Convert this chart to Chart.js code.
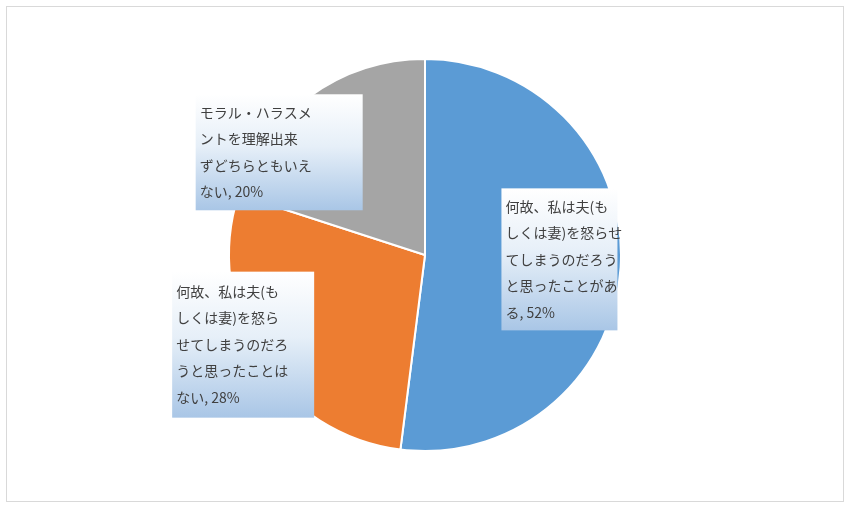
<!DOCTYPE html>
<html><head><meta charset="utf-8">
<script src="https://cdn.jsdelivr.net/npm/chart.js@4/dist/chart.umd.min.js"></script>
<style>
html,body{margin:0;padding:0;background:#fff;}
#wrap{position:absolute;left:0;top:0;width:850px;height:510px;}
#frame{position:absolute;left:6px;top:6px;width:836px;height:494px;border:1px solid #d9d9d9;pointer-events:none;}
</style></head>
<body>
<div id="wrap"><canvas id="c" width="850" height="510"></canvas></div>
<div id="frame"></div>
<script>
const categories = [
  "何故、私は夫(もしくは妻)を怒らせてしまうのだろうと思ったことがある",
  "何故、私は夫(もしくは妻)を怒らせてしまうのだろうと思ったことはない",
  "モラル・ハラスメントを理解出来ずどちらともいえない"
];
const values = [52, 28, 20];
const colors = ["#5b9bd5", "#ed7d31", "#a5a5a5"];
const labelLines = [
  ["何故、私は夫(も","しくは妻)を怒らせ","てしまうのだろう","と思ったことがあ","る, 52%"],
  ["何故、私は夫(も","しくは妻)を怒ら","せてしまうのだろ","うと思ったことは","ない, 28%"],
  ["モラル・ハラスメ","ントを理解出来","ずどちらともいえ","ない, 20%"]
];
const labelBoxes = [
  {dx:0.39, dy:-0.34, w:116, h:142},
  {dx:-1.29, dy:0.085, w:142, h:146},
  {dx:-1.17, dy:-0.82, w:167, h:116}
];
const labelPlugin = {
  id:'calloutLabels',
  afterDatasetsDraw(chart){
    const ctx = chart.ctx;
    const arc = chart.getDatasetMeta(0).data[0];
    const cx = arc.x, cy = arc.y, r = arc.outerRadius;
    ctx.save();
    labelBoxes.forEach((b,i)=>{
      const x = cx + b.dx*r, y = cy + b.dy*r;
      const g = ctx.createLinearGradient(0,y,0,y+b.h);
      g.addColorStop(0,'#ffffff');
      g.addColorStop(0.45,'#e6eff8');
      g.addColorStop(1,'#a9c6e6');
      ctx.fillStyle = g;
      ctx.fillRect(x,y,b.w,b.h);
      ctx.fillStyle = '#404040';
      ctx.font = '14px "Noto Sans CJK JP", sans-serif';
      ctx.textBaseline = 'middle';
      const lh = 26.5;
      const top = y + (b.h - lh*labelLines[i].length)/2 + lh/2;
      labelLines[i].forEach((t,k)=>ctx.fillText(t, x+4, top + k*lh));
    });
    ctx.restore();
  }
};
new Chart(document.getElementById('c'), {
  type:'pie',
  data:{labels:categories, datasets:[{data:values, backgroundColor:colors, borderColor:'#ffffff', borderWidth:2}]},
  options:{
    responsive:false, animation:false,
    layout:{padding:{top:58,bottom:58,left:0,right:0}},
    plugins:{legend:{display:false}, tooltip:{enabled:false}}
  },
  plugins:[labelPlugin]
});
</script>
</body></html>
